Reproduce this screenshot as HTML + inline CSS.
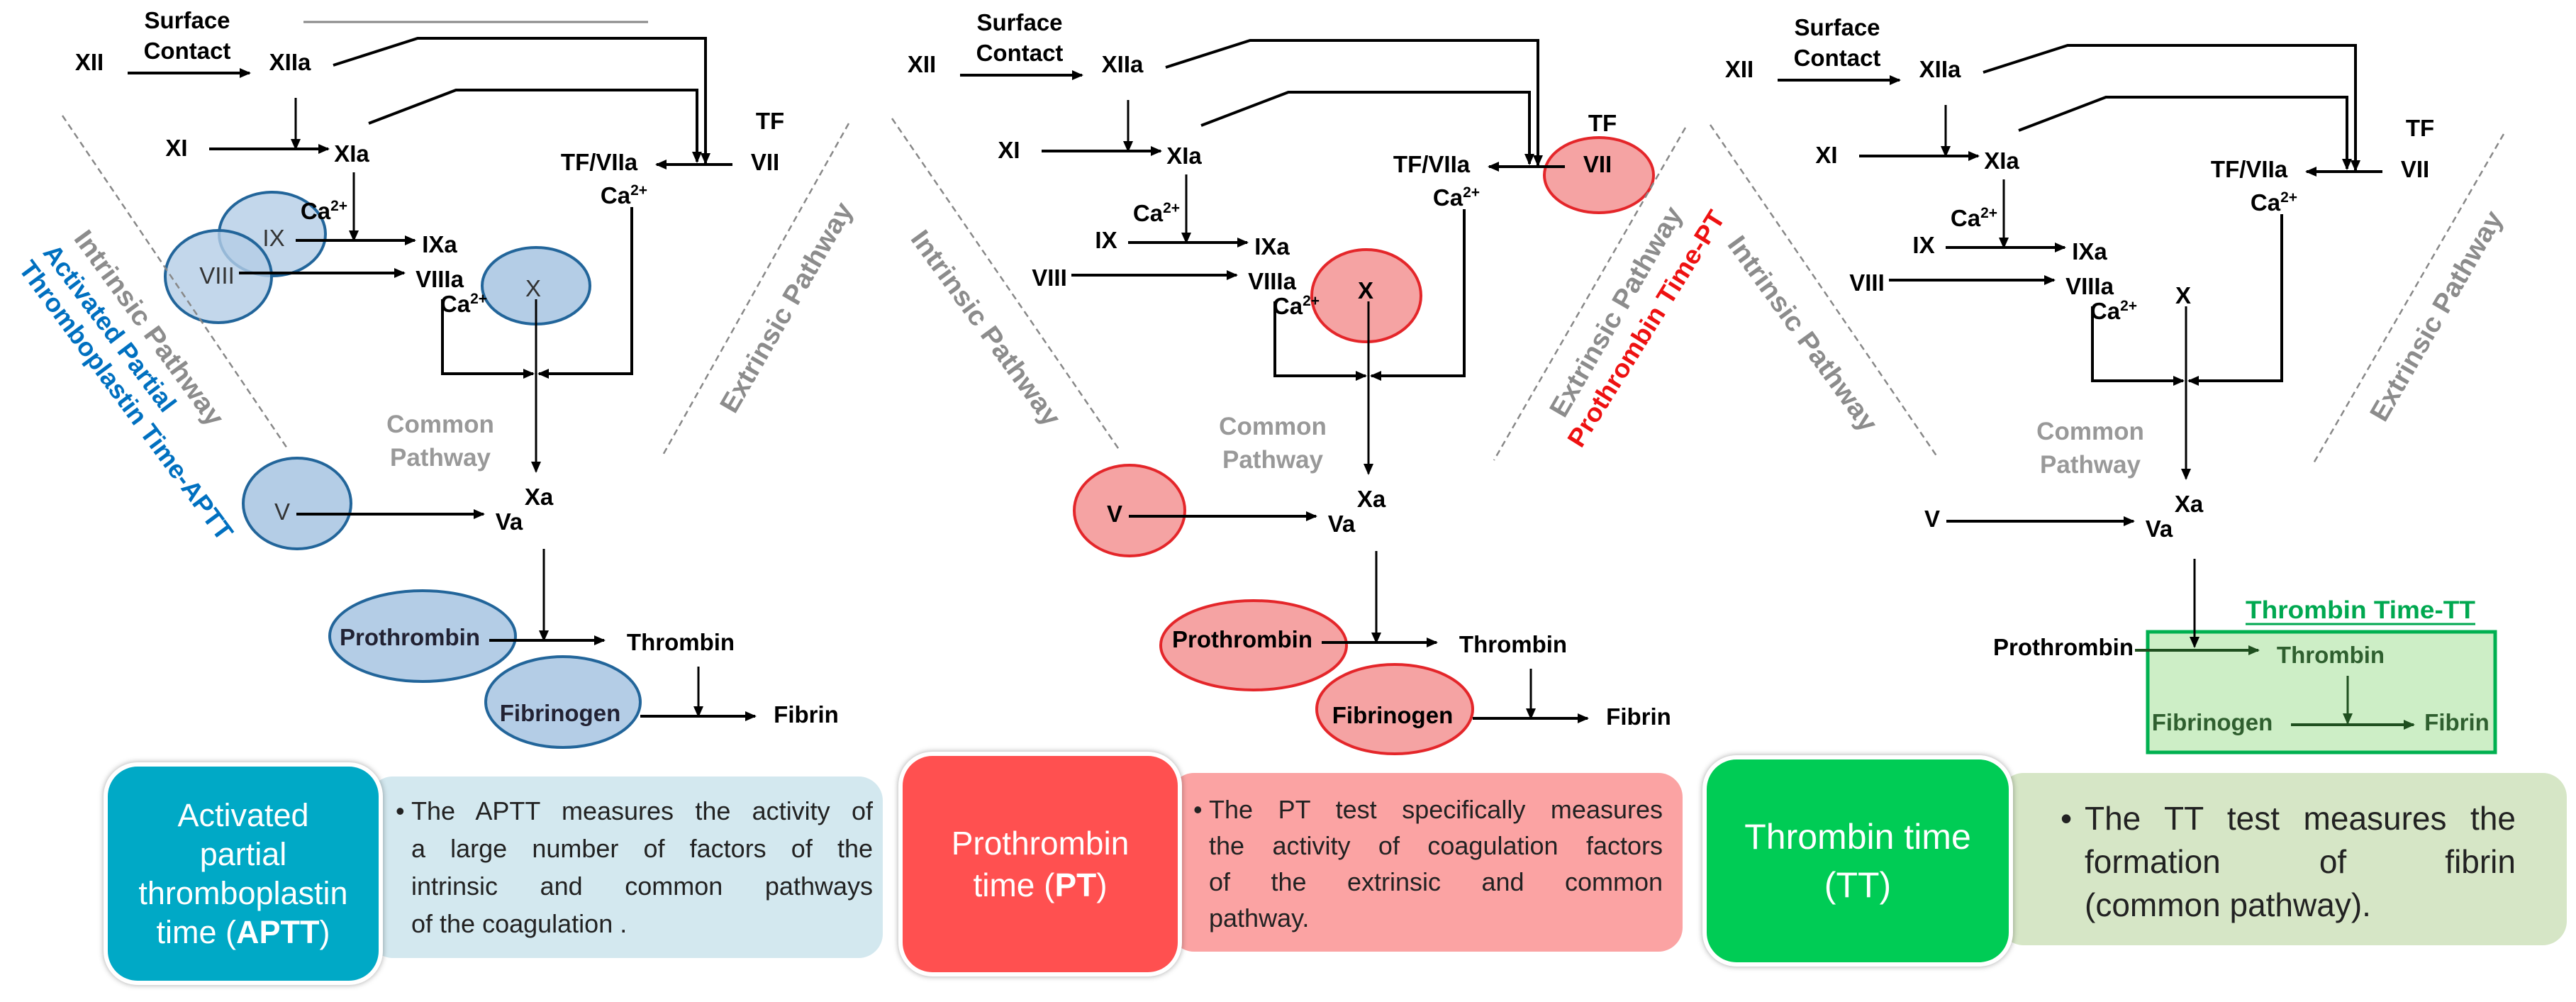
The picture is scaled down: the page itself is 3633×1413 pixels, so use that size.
<!DOCTYPE html>
<html><head><meta charset="utf-8"><style>
html,body{margin:0;padding:0;background:#fff;}
body{width:3633px;height:1413px;position:relative;overflow:hidden;font-family:"Liberation Sans",sans-serif;}
svg{position:absolute;left:0;top:0;}
.bx{position:absolute;box-sizing:border-box;}
.dark{border:6px solid #fff;box-shadow:0 0 8px rgba(0,0,0,.35);border-radius:48px;color:#fff;text-align:center;display:flex;flex-direction:column;justify-content:center;}
.light{border-radius:34px;color:#222;}
.light span.l{display:block;text-align:justify;text-align-last:justify;white-space:nowrap;}
.light span.e{display:block;text-align:left;white-space:nowrap;}
.light span.l,.light span.e{position:relative;}
</style></head><body>

<!-- bottom boxes -->
<div class="bx light" style="left:520px;top:1095px;width:725px;height:256px;background:#d3e8ef;padding:22px 14px 0 60px;font-size:36px;line-height:53px;">
<span class="l" style="white-space:normal"><span style="position:absolute;left:-22px;">•</span>The APTT measures the activity of</span>
<span class="l" style="white-space:normal">a large number of factors of the</span>
<span class="l" style="white-space:normal">intrinsic and common pathways</span>
<span class="e">of the coagulation .</span></div>
<div class="bx dark" style="left:146px;top:1075px;width:394px;height:314px;background:#00a9c6;font-size:45px;line-height:55px;">
<div>Activated<br>partial<br>thromboplastin<br>time (<b>APTT</b>)</div></div>

<div class="bx light" style="left:1650px;top:1090px;width:723px;height:252px;background:#fba3a3;padding:26px 28px 0 55px;font-size:36px;line-height:51px;">
<span class="l" style="white-space:normal"><span style="position:absolute;left:-22px;">•</span>The PT test specifically measures</span>
<span class="l" style="white-space:normal">the activity of coagulation factors</span>
<span class="l" style="white-space:normal">of the extrinsic and common</span>
<span class="e">pathway.</span></div>
<div class="bx dark" style="left:1267px;top:1060px;width:400px;height:317px;background:#ff5050;font-size:46px;line-height:59px;">
<div>Prothrombin<br>time (<b>PT</b>)</div></div>

<div class="bx light" style="left:2820px;top:1090px;width:800px;height:243px;background:#d6e6c6;padding:34px 72px 0 120px;font-size:46px;line-height:61px;">
<span class="l" style="white-space:normal"><span style="position:absolute;left:-34px;">•</span>The TT test measures the</span>
<span class="l" style="white-space:normal">formation of fibrin</span>
<span class="e">(common pathway).</span></div>
<div class="bx dark" style="left:2401px;top:1065px;width:438px;height:298px;background:#00cc55;font-size:50px;line-height:68px;">
<div>Thrombin time<br>(TT)</div></div>

<svg width="3633" height="1070" viewBox="0 0 3633 1070" font-family="Liberation Sans, sans-serif">
<defs>
<marker id="ah" markerWidth="16" markerHeight="14" refX="14" refY="7" orient="auto" markerUnits="userSpaceOnUse"><path d="M0,0 L16,7 L0,14 Z" fill="#000"/></marker>
<marker id="ahg" markerWidth="16" markerHeight="14" refX="14" refY="7" orient="auto" markerUnits="userSpaceOnUse"><path d="M0,0 L16,7 L0,14 Z" fill="#1f4f1f"/></marker>
</defs>

<g fill="#b4cde6" stroke="#22659a" stroke-width="4">
<ellipse cx="384" cy="330" rx="75" ry="59" fill-opacity="0.8"/>
<ellipse cx="308" cy="390" rx="75" ry="65" fill-opacity="0.8"/>
<ellipse cx="756" cy="403" rx="76" ry="54"/>
<ellipse cx="419" cy="710" rx="76" ry="64"/>
<ellipse cx="596" cy="897" rx="131" ry="64"/>
<ellipse cx="794" cy="990" rx="109" ry="64"/>
</g>
<g fill="#f5a3a3" stroke="#e4262a" stroke-width="4">
<ellipse cx="2255" cy="247" rx="77" ry="53"/>
<ellipse cx="1927" cy="417" rx="77" ry="65"/>
<ellipse cx="1593" cy="720" rx="78" ry="64"/>
<ellipse cx="1768" cy="910" rx="131" ry="63"/>
<ellipse cx="1967" cy="1000" rx="110" ry="63"/>
</g>
<rect x="3029" y="891" width="490" height="170" fill="#cdeec6" stroke="#00b050" stroke-width="5"/>

<line x1="428" y1="31" x2="914" y2="31" stroke="#888" stroke-width="3"/>

<g stroke="#888" stroke-width="2.5" stroke-dasharray="9,6">
<line x1="88" y1="163" x2="405" y2="632"/>
<line x1="1197" y1="174" x2="933" y2="645"/>
<line x1="1258" y1="167" x2="1579" y2="635"/>
<line x1="2377" y1="180" x2="2107" y2="649"/>
<line x1="2412" y1="176" x2="2732" y2="644"/>
<line x1="3531" y1="189" x2="3263" y2="653"/>
</g>

<g font-weight="bold" font-size="38" fill="#8c8c8c" text-anchor="middle">
<text transform="translate(200,470) rotate(54)" textLength="330" lengthAdjust="spacingAndGlyphs">Intrinsic Pathway</text>
<text transform="translate(1120,440) rotate(-60)" textLength="335" lengthAdjust="spacingAndGlyphs">Extrinsic Pathway</text>
<text transform="translate(1380,470) rotate(54)" textLength="330" lengthAdjust="spacingAndGlyphs">Intrinsic Pathway</text>
<text transform="translate(2290,446) rotate(-60)" textLength="335" lengthAdjust="spacingAndGlyphs">Extrinsic Pathway</text>
<text transform="translate(2532,478) rotate(54)" textLength="330" lengthAdjust="spacingAndGlyphs">Intrinsic Pathway</text>
<text transform="translate(3447,452) rotate(-60)" textLength="335" lengthAdjust="spacingAndGlyphs">Extrinsic Pathway</text>
</g>
<g font-weight="bold" font-size="36" fill="#0070c0" text-anchor="middle">
<text transform="translate(145,470) rotate(53)" textLength="285" lengthAdjust="spacingAndGlyphs">Activated Partial</text>
<text transform="translate(168,572) rotate(53.5)" textLength="480" lengthAdjust="spacingAndGlyphs">Thromboplastin Time-APTT</text>
</g>
<text transform="translate(2332,470) rotate(-58)" font-weight="bold" font-size="36" fill="#ee1111" text-anchor="middle" textLength="385" lengthAdjust="spacingAndGlyphs">Prothrombin Time-PT</text>

<!-- Panel 1 -->
<g>
<g stroke="#000" stroke-width="4" fill="none">
<line x1="180" y1="103" x2="352" y2="103" marker-end="url(#ah)"/>
<polyline points="470,92 589,54 995,54 995,230" marker-end="url(#ah)"/>
<polyline points="520,174 643,127 983,127 983,228" marker-end="url(#ah)"/>
<line x1="417" y1="138" x2="417" y2="210" stroke-width="3" marker-end="url(#ah)"/>
<line x1="295" y1="210" x2="463" y2="210" marker-end="url(#ah)"/>
<line x1="1033" y1="232" x2="926" y2="232" marker-end="url(#ah)"/>
<polyline points="891,292 891,527 760,527" marker-end="url(#ah)"/>
<line x1="499" y1="243" x2="499" y2="339" stroke-width="3" marker-end="url(#ah)"/>
<line x1="417" y1="339" x2="585" y2="339" marker-end="url(#ah)"/>
<line x1="337" y1="385" x2="570" y2="385" marker-end="url(#ah)"/>
<polyline points="624,422 624,527 752,527" marker-end="url(#ah)"/>
<line x1="756" y1="422" x2="756" y2="665" stroke-width="3" marker-end="url(#ah)"/>
<line x1="418" y1="725" x2="682" y2="725" marker-end="url(#ah)"/>
<line x1="767" y1="774" x2="767" y2="903" stroke-width="3" marker-end="url(#ah)"/>
<line x1="690" y1="903" x2="852" y2="903" marker-end="url(#ah)"/>
<line x1="985" y1="940" x2="985" y2="1010" stroke-width="3" marker-end="url(#ah)"/>
<line x1="903" y1="1010" x2="1065" y2="1010" marker-end="url(#ah)"/>
</g>
<g font-weight="bold" font-size="33" fill="#000" text-anchor="middle">
<text x="126" y="99">XII</text>
<text x="264" y="40">Surface</text><text x="264" y="83">Contact</text>
<text x="409" y="99">XIIa</text>
<text x="249" y="220">XI</text>
<text x="496" y="228">XIa</text>
<text x="1086" y="182">TF</text>
<text x="1079" y="240">VII</text>
<text x="845" y="240">TF/VIIa</text>
<text x="880" y="287">Ca<tspan font-size="21" dy="-12">2+</tspan></text>
<text x="457" y="309">Ca<tspan font-size="21" dy="-12">2+</tspan></text>
<text x="386" y="347" font-weight="normal" fill="#333">IX</text>
<text x="620" y="356">IXa</text>
<text x="306" y="400" font-weight="normal" fill="#333">VIII</text>
<text x="620" y="405">VIIIa</text>
<text x="752" y="418" font-weight="normal" fill="#333">X</text>
<text x="654" y="440">Ca<tspan font-size="21" dy="-12">2+</tspan></text>
<text x="621" y="610" fill="#999" font-size="35">Common</text>
<text x="621" y="657" fill="#999" font-size="35">Pathway</text>
<text x="760" y="712">Xa</text>
<text x="398" y="733" font-weight="normal" fill="#333">V</text>
<text x="718" y="747">Va</text>
<text x="578" y="910" fill="#223">Prothrombin</text>
<text x="960" y="917">Thrombin</text>
<text x="790" y="1017" fill="#223">Fibrinogen</text>
<text x="1137" y="1019">Fibrin</text>
</g>
</g>

<!-- Panel 2 -->
<g transform="translate(1174,3)">
<g stroke="#000" stroke-width="4" fill="none">
<line x1="180" y1="103" x2="352" y2="103" marker-end="url(#ah)"/>
<polyline points="470,92 589,54 995,54 995,230" marker-end="url(#ah)"/>
<polyline points="520,174 643,127 983,127 983,228" marker-end="url(#ah)"/>
<line x1="417" y1="138" x2="417" y2="210" stroke-width="3" marker-end="url(#ah)"/>
<line x1="295" y1="210" x2="463" y2="210" marker-end="url(#ah)"/>
<line x1="1033" y1="232" x2="926" y2="232" marker-end="url(#ah)"/>
<polyline points="891,292 891,527 760,527" marker-end="url(#ah)"/>
<line x1="499" y1="243" x2="499" y2="339" stroke-width="3" marker-end="url(#ah)"/>
<line x1="417" y1="339" x2="585" y2="339" marker-end="url(#ah)"/>
<line x1="337" y1="385" x2="570" y2="385" marker-end="url(#ah)"/>
<polyline points="624,422 624,527 752,527" marker-end="url(#ah)"/>
<line x1="756" y1="422" x2="756" y2="665" stroke-width="3" marker-end="url(#ah)"/>
<line x1="418" y1="725" x2="682" y2="725" marker-end="url(#ah)"/>
<line x1="767" y1="774" x2="767" y2="903" stroke-width="3" marker-end="url(#ah)"/>
<line x1="690" y1="903" x2="852" y2="903" marker-end="url(#ah)"/>
<line x1="985" y1="940" x2="985" y2="1010" stroke-width="3" marker-end="url(#ah)"/>
<line x1="903" y1="1010" x2="1065" y2="1010" marker-end="url(#ah)"/>
</g>
<g font-weight="bold" font-size="33" fill="#000" text-anchor="middle">
<text x="126" y="99">XII</text>
<text x="264" y="40">Surface</text><text x="264" y="83">Contact</text>
<text x="409" y="99">XIIa</text>
<text x="249" y="220">XI</text>
<text x="496" y="228">XIa</text>
<text x="1086" y="182">TF</text>
<text x="1079" y="240">VII</text>
<text x="845" y="240">TF/VIIa</text>
<text x="880" y="287">Ca<tspan font-size="21" dy="-12">2+</tspan></text>
<text x="457" y="309">Ca<tspan font-size="21" dy="-12">2+</tspan></text>
<text x="386" y="347">IX</text>
<text x="620" y="356">IXa</text>
<text x="306" y="400">VIII</text>
<text x="620" y="405">VIIIa</text>
<text x="752" y="418">X</text>
<text x="654" y="440">Ca<tspan font-size="21" dy="-12">2+</tspan></text>
<text x="621" y="610" fill="#999" font-size="35">Common</text>
<text x="621" y="657" fill="#999" font-size="35">Pathway</text>
<text x="760" y="712">Xa</text>
<text x="398" y="733">V</text>
<text x="718" y="747">Va</text>
<text x="578" y="910">Prothrombin</text>
<text x="960" y="917">Thrombin</text>
<text x="790" y="1017">Fibrinogen</text>
<text x="1137" y="1019">Fibrin</text>
</g>
</g>

<!-- Panel 3 -->
<g transform="translate(2327,10)">
<g stroke="#000" stroke-width="4" fill="none">
<line x1="180" y1="103" x2="352" y2="103" marker-end="url(#ah)"/>
<polyline points="470,92 589,54 995,54 995,230" marker-end="url(#ah)"/>
<polyline points="520,174 643,127 983,127 983,228" marker-end="url(#ah)"/>
<line x1="417" y1="138" x2="417" y2="210" stroke-width="3" marker-end="url(#ah)"/>
<line x1="295" y1="210" x2="463" y2="210" marker-end="url(#ah)"/>
<line x1="1033" y1="232" x2="926" y2="232" marker-end="url(#ah)"/>
<polyline points="891,292 891,527 760,527" marker-end="url(#ah)"/>
<line x1="499" y1="243" x2="499" y2="339" stroke-width="3" marker-end="url(#ah)"/>
<line x1="417" y1="339" x2="585" y2="339" marker-end="url(#ah)"/>
<line x1="337" y1="385" x2="570" y2="385" marker-end="url(#ah)"/>
<polyline points="624,422 624,527 752,527" marker-end="url(#ah)"/>
<line x1="756" y1="422" x2="756" y2="665" stroke-width="3" marker-end="url(#ah)"/>
<line x1="418" y1="725" x2="682" y2="725" marker-end="url(#ah)"/>
<line x1="768" y1="778" x2="768" y2="902" stroke-width="3" marker-end="url(#ah)"/>
</g>
<g font-weight="bold" font-size="33" fill="#000" text-anchor="middle">
<text x="126" y="99">XII</text>
<text x="264" y="40">Surface</text><text x="264" y="83">Contact</text>
<text x="409" y="99">XIIa</text>
<text x="249" y="220">XI</text>
<text x="496" y="228">XIa</text>
<text x="1086" y="182">TF</text>
<text x="1079" y="240">VII</text>
<text x="845" y="240">TF/VIIa</text>
<text x="880" y="287">Ca<tspan font-size="21" dy="-12">2+</tspan></text>
<text x="457" y="309">Ca<tspan font-size="21" dy="-12">2+</tspan></text>
<text x="386" y="347">IX</text>
<text x="620" y="356">IXa</text>
<text x="306" y="400">VIII</text>
<text x="620" y="405">VIIIa</text>
<text x="752" y="418">X</text>
<text x="654" y="440">Ca<tspan font-size="21" dy="-12">2+</tspan></text>
<text x="621" y="610" fill="#999" font-size="35">Common</text>
<text x="621" y="657" fill="#999" font-size="35">Pathway</text>
<text x="760" y="712">Xa</text>
<text x="398" y="733">V</text>
<text x="718" y="747">Va</text>
</g>
</g>
<g stroke-width="4" fill="none">
<line x1="3011" y1="917" x2="3185" y2="917" stroke="#1f4f1f" marker-end="url(#ahg)"/>
<line x1="3311" y1="953" x2="3311" y2="1020" stroke="#1f4f1f" stroke-width="3" marker-end="url(#ahg)"/>
<line x1="3231" y1="1022" x2="3404" y2="1022" stroke="#1f4f1f" marker-end="url(#ahg)"/>
</g>
<g font-weight="bold" font-size="33" text-anchor="middle">
<text x="2910" y="924" fill="#000">Prothrombin</text>
<text x="3287" y="935" fill="#2f5f2f">Thrombin</text>
<text x="3120" y="1030" fill="#2f5f2f">Fibrinogen</text>
<text x="3465" y="1030" fill="#2f5f2f">Fibrin</text>
<text x="3329" y="872" fill="#00a850" font-size="35" textLength="324" lengthAdjust="spacingAndGlyphs">Thrombin Time-TT</text>
</g>
<line x1="3167" y1="880" x2="3491" y2="880" stroke="#00a850" stroke-width="3"/>
</svg>
</body></html>
